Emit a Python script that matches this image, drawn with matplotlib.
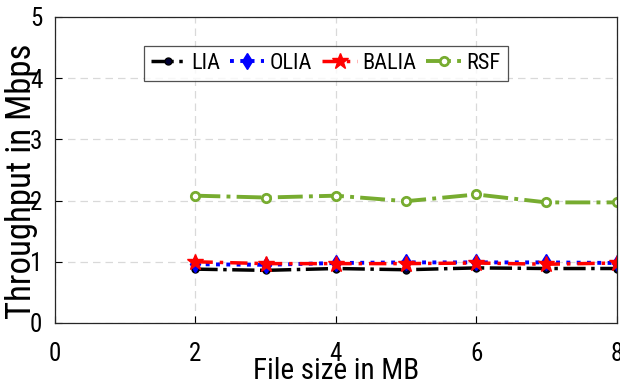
import matplotlib
matplotlib.use("Agg")
import matplotlib.pyplot as plt
from matplotlib import font_manager

cands = []
for f in font_manager.fontManager.ttflist:
    fn = f.fname.lower()
    if ('narrow' in fn or 'condensed' in fn) and 'bold' not in fn and 'italic' not in fn and 'oblique' not in fn:
        cands.append(f)
pref = ['liberationsansnarrow', 'robotocondensed', 'opensanscondensed', 'dejavusanscondensed']
chosen = None
for p in pref:
    for f in cands:
        if p in f.fname.lower().replace('-', '').replace('_', ''):
            chosen = f
            break
    if chosen:
        break
if chosen is None and cands:
    chosen = cands[0]

if chosen is not None:
    font_manager.fontManager.addfont(chosen.fname)
    plt.rcParams['font.family'] = [chosen.name, 'DejaVu Sans']
    plt.rcParams['font.stretch'] = chosen.stretch
    narrow = True
else:
    plt.rcParams['font.family'] = ['Liberation Sans', 'DejaVu Sans']
    narrow = False

file_size = [2, 3, 4, 5, 6, 7, 8]
lia = [0.88, 0.86, 0.89, 0.87, 0.90, 0.89, 0.89]
olia = [0.96, 0.95, 0.98, 0.99, 0.99, 0.99, 0.98]
balia = [1.00, 0.97, 0.97, 0.97, 0.98, 0.96, 0.98]
rsf = [2.08, 2.05, 2.08, 1.99, 2.10, 1.97, 1.97]
xticks = [0, 2, 4, 6, 8]
yticks = [0, 1, 2, 3, 4, 5]

tick_fs = 18 if narrow else 15.5
lab_fs = 21 if narrow else 17.5
ylab_fs = 25 if narrow else 22
leg_fs = 16 if narrow else 14

fig = plt.figure(figsize=(6.2, 3.83), dpi=100)
ax = fig.add_axes([0.0887, 0.1567, 0.906, 0.799])

ax.plot(file_size, lia, color='black', linestyle='-.', lw=2.5, marker='o', ms=5,
        markerfacecolor='#000033', label='LIA')
ax.plot(file_size, olia, color='blue', linestyle=':', lw=2.8, marker='d', ms=8, label='OLIA')
ax.plot(file_size, balia, color='red', linestyle=(0, (5, 2, 1, 2)), lw=2.5, marker='*', ms=12, label='BALIA')
ax.plot(file_size, rsf, color='#77AC30', linestyle='-.', lw=2.8, marker='o', ms=6,
        markerfacecolor='white', markeredgewidth=2, label='RSF')

ax.set_xlim(0, 8)
ax.set_ylim(0, 5)
ax.set_xticks(xticks)
ax.set_yticks(yticks)
ax.grid(True, linestyle=(0, (6, 4)), color='#d9d9d9', lw=0.9)
ax.tick_params(direction='in', labelsize=tick_fs, length=5)
ax.tick_params(axis='x', pad=14)
ax.tick_params(axis='y', pad=9)
for s in ax.spines.values():
    s.set_color('#262626')
    s.set_linewidth(0.9)

ax.set_xlabel('File size in MB', fontsize=lab_fs)
ax.xaxis.set_label_coords(0.5, -0.112)
ax.set_ylabel('Throughput in Mbps', fontsize=ylab_fs)
ax.yaxis.set_label_coords(-0.03, 0.464)

leg = ax.legend(loc='center', bbox_to_anchor=(0.482, 0.849), ncol=4, fontsize=leg_fs,
                frameon=True, fancybox=False, edgecolor='#262626', handlelength=1.55,
                handletextpad=0.25, columnspacing=0.45, borderpad=0.32, borderaxespad=0)
leg.get_frame().set_linewidth(0.9)

fig.savefig('out.png', dpi=100)
